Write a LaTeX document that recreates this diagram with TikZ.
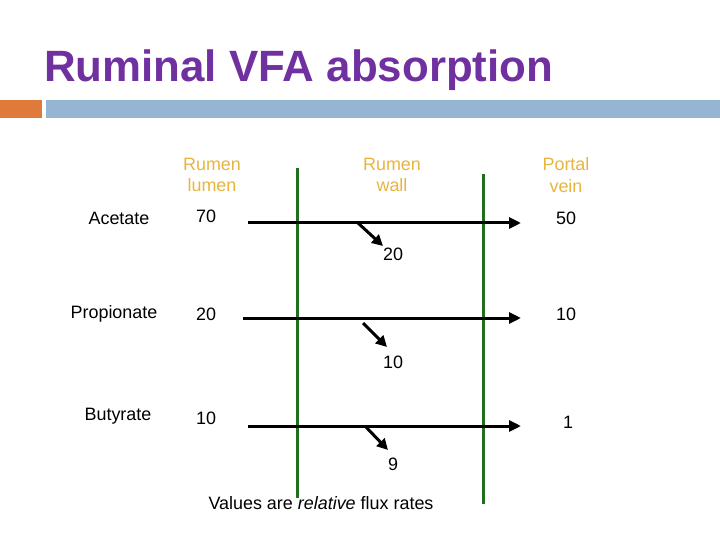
\documentclass[tikz,border=0pt]{standalone}
\usepackage{fontspec}
\setmainfont{Liberation Sans}
\usepackage{xcolor}
\usetikzlibrary{arrows.meta, positioning}

\definecolor{titlepurple}{RGB}{112,48,160}
\definecolor{barorange}{RGB}{224,122,58}
\definecolor{barblue}{RGB}{148,182,210}
\definecolor{headgold}{RGB}{232,180,64}
\definecolor{wallgreen}{RGB}{30,112,30}

\begin{document}
\begin{tikzpicture}[
  x=1bp, y=-1bp,
  txt/.style={inner sep=0pt, font=\fontsize{18}{21.6}\selectfont},
  colhead/.style={txt, align=center, text=headgold},
  rowname/.style={txt},
  flux/.style={txt},
  wall/.style={line width=3bp, wallgreen},
  flow/.style={-{Triangle[length=12bp, width=11bp]}, line width=3bp, black},
  uptake/.style={-{Triangle[length=11bp, width=11bp]}, line width=3bp, black},
]
\useasboundingbox (0,0) rectangle (720,540);
% ====== TITLE AND BARS ======
\node[anchor=base west, inner sep=0pt, text=titlepurple,
  font=\fontsize{44}{52}\selectfont\bfseries] (title) at (44,82)
  {Ruminal VFA absorption};
\fill[barorange] (0,100) rectangle (42,118);
\fill[barblue] (46,100) rectangle (720,118);
%
% ====== COLUMN HEADS ======
\node[colhead] (h_lumen) at (212,175) {Rumen\\lumen};
\node[colhead] (h_wall) at (392,175) {Rumen\\wall};
\node[colhead] (h_vein) at (566,175) {Portal\\vein};
%
% ====== WALL LINES ======
\coordinate (w1_top) at (297,168);
\coordinate (w1_bot) at (297,498);
\coordinate (w2_top) at (483,174);
\coordinate (w2_bot) at (483,504);
\draw[wall] (w1_top) -- (w1_bot);
\draw[wall] (w2_top) -- (w2_bot);
%
% ====== ACETATE ======
\node[rowname] (a_name) at (119,218) {Acetate};
\node[flux] (a_in) at (206,216) {70};
\node[flux] (a_out) at (566,218) {50};
\node[flux] (a_wall) at (393,254) {20};
\coordinate (a_start) at (248,223);
\coordinate (a_end) at (521,223);
\coordinate (a_branch) at (358,223);
\coordinate (a_tip) at (383,246);
\draw[flow] (a_start) -- (a_end);
\draw[uptake] (a_branch) -- (a_tip);
%
% ====== PROPIONATE ======
\node[rowname] (p_name) at (114,314) {Propionate};
\node[flux] (p_in) at (206,314) {20};
\node[flux] (p_out) at (566,314) {10};
\node[flux] (p_wall) at (393,362) {10};
\coordinate (p_start) at (243,318);
\coordinate (p_end) at (521,318);
\coordinate (p_branch) at (363,323);
\coordinate (p_tip) at (387,347);
\draw[flow] (p_start) -- (p_end);
\draw[uptake] (p_branch) -- (p_tip);
%
% ====== BUTYRATE ======
\node[rowname] (b_name) at (118,416) {Butyrate};
\node[flux] (b_in) at (206,418) {10};
\node[flux] (b_out) at (568,422) {1};
\node[flux] (b_wall) at (393,464) {9};
\coordinate (b_start) at (248,426);
\coordinate (b_end) at (521,426);
\coordinate (b_branch) at (365,426);
\coordinate (b_tip) at (388,450);
\draw[flow] (b_start) -- (b_end);
\draw[uptake] (b_branch) -- (b_tip);
%
% ====== NOTE ======
\node[txt] (note) at (321,503) {Values are \textit{relative} flux rates};
\end{tikzpicture}
\end{document}
